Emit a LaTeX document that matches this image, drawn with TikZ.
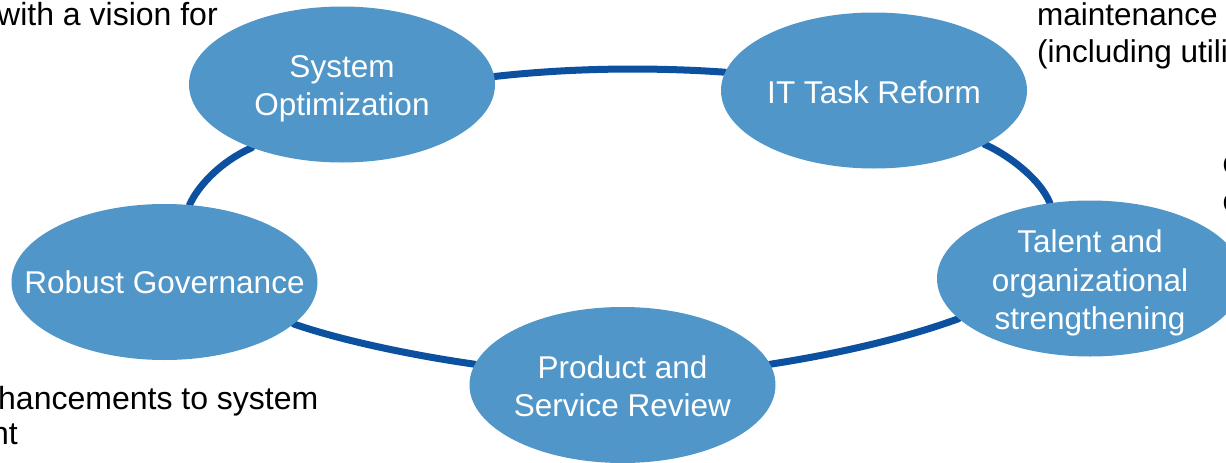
\documentclass[tikz,border=0pt]{standalone}
\usepackage{fontspec}
\setmainfont{Liberation Sans}
\usetikzlibrary{shapes.geometric,backgrounds}
\definecolor{nodefill}{RGB}{80,150,201}
\definecolor{ringblue}{RGB}{12,80,160}
\begin{document}
\begin{tikzpicture}[x=1pt,y=-1pt,
  bubble/.style={ellipse, fill=nodefill, minimum width=306pt, minimum height=156pt, inner sep=0pt},
  btext/.style={text=white, align=center, inner sep=0pt, font=\fontsize{31.5}{38.5}\selectfont},
  ring/.style={draw=ringblue, line width=7pt, line cap=round},
  note/.style={text=black, inner sep=0pt, anchor=base west, font=\fontsize{32}{38.5}\selectfont},
  rnote/.style={note, font=\fontsize{31.5}{38.5}\selectfont}]
\useasboundingbox (0,0) rectangle (1226,463);
\clip (0,0) rectangle (1226,463);

% bubbles
\node[bubble] (sys)  at (342,84.5)  {};
\node[bubble] (it)   at (874,90.5)  {};
\node[bubble] (tal)  at (1090,278.5) {};
\node[bubble] (prod) at (622.5,385) {};
\node[bubble] (rob)  at (164.5,282) {};

\node[btext] (sysT)  at (342,89)   {System\\Optimization};
\node[btext] (itT)   at (874,92)   {IT Task Reform};
\node[btext] (talT)  at (1090,283) {Talent and\\organizational\\strengthening};
\node[btext] (prodT) at (622.5,386) {Product and\\Service Review};
\node[btext] (robT)  at (164.5,282) {Robust Governance};

% ring
\begin{pgfonlayer}{background}
\draw[ring] (sys.3) .. controls (570,68) and (650,67) .. (it.173);
\draw[ring] (it.-26) .. controls (1005,153) and (1040,178) .. (tal.118);
\draw[ring] (tal.197) .. controls (900,340) and (830,355) .. (prod.8);
\draw[ring] (prod.172) .. controls (410,355) and (340,340) .. (rob.-18);
\draw[ring] (rob.72) .. controls (197,188) and (218,163) .. (sys.215);
\end{pgfonlayer}

% surrounding text (cut by the page edge)
\node[note] (n1) at (-3,25)    {with a vision for};
\node[rnote] (n2) at (1037,25)  {maintenance};
\node[rnote] (n3) at (1037,62)  {(including utili};
\node[rnote] (n4) at (1222.5,173) {c};
\node[rnote] (n5) at (1222.5,211) {c};
\node[note] (n6) at (-2,409)   {hancements to system};
\node[note] (n7) at (-9,444)   {nt};
\end{tikzpicture}
\end{document}
